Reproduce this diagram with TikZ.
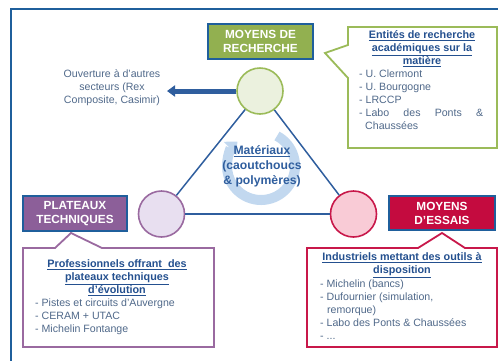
\documentclass[tikz,border=0pt]{standalone}
\usepackage{fontspec}
\setmainfont{Liberation Sans}
\usetikzlibrary{arrows.meta}
\definecolor{frameblue}{HTML}{1F5F9C}
\definecolor{linkblue}{HTML}{2F5E9E}
\definecolor{titleblue}{HTML}{24508F}
\definecolor{listgray}{HTML}{50698A}
\definecolor{greenfill}{HTML}{92B050}
\definecolor{greenline}{HTML}{9BBB59}
\definecolor{greenlight}{HTML}{EBF1DE}
\definecolor{purplefill}{HTML}{8C5F99}
\definecolor{purpleline}{HTML}{9A6AA0}
\definecolor{purplelight}{HTML}{E8DFF0}
\definecolor{redfill}{HTML}{C40B3F}
\definecolor{redline}{HTML}{C8184A}
\definecolor{pinklight}{HTML}{F9CBD6}
\definecolor{ringblue}{HTML}{C2D8EF}
\tikzset{
  labelbox/.style={draw=frameblue, line width=1.2pt, text=white, font=\fontsize{11.8}{14}\selectfont\bfseries, align=center, inner sep=0pt, minimum height=35pt},
  hub/.style={circle, line width=1.6pt, minimum size=46pt, inner sep=0pt},
  link/.style={draw=linkblue, line width=1.5pt},
  callout/.style={line width=1.8pt, fill=white, line join=miter},
  ctitle/.style={text=titleblue, font=\fontsize{10.8}{13}\selectfont\bfseries, align=center, inner sep=0pt},
  clist/.style={text=listgray, font=\fontsize{10.6}{13}\selectfont, align=left, inner sep=0pt, anchor=west}
}
\begin{document}
\begin{tikzpicture}[x=1pt,y=-1pt]
\useasboundingbox (0,0) rectangle (498,360);
\clip (0,0) rectangle (498,360);
% frame
\draw[frameblue, line width=2pt] (11,9) rectangle (510,375);
% central ring arrow
\draw[ringblue, line width=10pt, -{Triangle[width=18pt,length=10pt]}] (261,166) ++(-62:34) arc[start angle=-62, end angle=226, radius=34];
% circles
\node[hub, draw=greenline, fill=greenlight] (cR) at (260,91) {};
\node[hub, draw=purpleline, fill=purplelight] (cT) at (161.5,214) {};
\node[hub, draw=redline, fill=pinklight] (cE) at (353.5,214) {};
% triangle
\draw[link] (cR) -- (cT);
\draw[link] (cT) -- (cE);
\draw[link] (cE) -- (cR);
% central text
\node[text=linkblue, font=\fontsize{12.2}{15}\selectfont\bfseries, align=center, inner sep=0pt] (mat) at (262,166) {\underline{Matériaux}\\(caoutchoucs\\\& polymères)};
% arrow out
\coordinate (outend) at (167,91);
\draw[linkblue, line width=5pt, -{Triangle[width=11pt,length=8pt]}] (cR.west) -- (outend);
\node[text=listgray, font=\fontsize{10.6}{13}\selectfont, align=center, inner sep=0pt] (ouv) at (112,88) {Ouverture à d'autres\\secteurs (Rex\\Composite, Casimir)};
% label boxes
\node[labelbox, fill=greenfill, minimum width=105pt] (bR) at (260.5,41.5) {MOYENS DE\\RECHERCHE};
% callouts
\draw[callout, draw=greenline] (348,27) -- (497,27) -- (497,148) -- (348,148) -- (348,78) -- (325,53) -- (348,45) -- cycle;
\draw[callout, draw=purpleline] (23,248) -- (55,248) -- (71,233) -- (102,248) -- (214,248) -- (214,347) -- (23,347) -- cycle;
\draw[callout, draw=redline] (307,248) -- (418,248) -- (442,233) -- (465,248) -- (497,248) -- (497,347) -- (307,347) -- cycle;
\node[labelbox, fill=purplefill, minimum width=104pt] (bT) at (75,213.5) {PLATEAUX\\TECHNIQUES};
\node[labelbox, fill=redfill, minimum width=106pt, minimum height=34pt] (bE) at (442,213) {MOYENS\\D'ESSAIS};
% green callout text
\node[ctitle] (gt) at (422,49) {\underline{Entités de recherche}\\\underline{académiques sur la}\\\underline{matière}};
\node[clist] (gl) at (359,100) {- U. Clermont\\- U. Bourgogne\\- LRCCP\\\hbox to 124pt{- Labo\hfill des\hfill Ponts\hfill \&}\\\hspace*{6pt}Chaussées};
% purple callout text
\node[ctitle] (pt) at (117,278) {\underline{Professionnels offrant\ \ des}\\\underline{plateaux techniques}\\\underline{d'évolution}};
\node[clist] (pl) at (35,317) {- Pistes et circuits d'Auvergne\\- CERAM + UTAC\\- Michelin Fontange};
% red callout text
\node[ctitle] (rt) at (402,265.5) {\underline{Industriels mettant des outils à}\\\underline{disposition}};
\node[clist] (rl) at (320,310) {- Michelin (bancs)\\- Dufournier (simulation,\\\hspace*{7pt}remorque)\\- Labo des Ponts \& Chaussées\\- ...};
\end{tikzpicture}
\end{document}
